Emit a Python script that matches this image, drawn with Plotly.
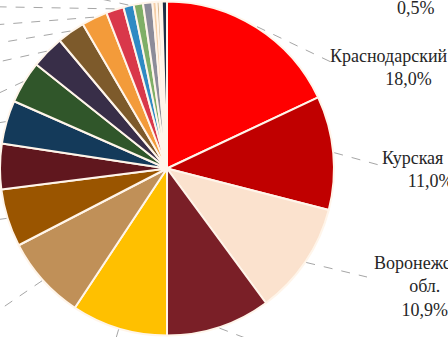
import math
import plotly.graph_objects as go

# ---- data ----
regions = [
    "Краснодарский край", "Курская обл.", "Воронежская обл.", "Липецкая обл.",
    "Тамбовская обл.", "Белгородская обл.", "Орловская обл.", "Пензенская обл.",
    "Республика Татарстан", "Республика Башкортостан", "Ставропольский край",
    "Алтайский край", "Рязанская обл.", "Брянская обл.", "Саратовская обл.",
    "Ульяновская обл.", "Республика Мордовия", "Нижегородская обл.",
    "Омская обл.", "Новосибирская обл.", "Прочие",
]
shares = [18.0, 11.0, 10.9, 10.1, 9.3, 8.1, 5.6, 4.4, 4.2, 4.1, 3.2,
          2.7, 2.5, 1.7, 1.0, 0.9, 0.9, 0.4, 0.3, 0.2, 0.5]

# ---- style ----
colors = ["#FF0000", "#C00000", "#FBE2CE", "#7A1F27", "#FFC000", "#C09058",
          "#9A5500", "#60171E", "#143A5A", "#30562A", "#382E48", "#7D5A2B",
          "#F39B3A", "#D9384A", "#2F8AC4", "#7FAF66", "#8C8C99", "#F5CFA8",
          "#D8B890", "#B8C0C8", "#1F2E45"]

W, H = 448, 337
dom_w = 334  # px width of pie domain
R = min(dom_w, H) / 2
CX, CY = dom_w / 2, H / 2
FONT = dict(family="Liberation Serif", size=18, color="#262626")

def px(x):
    return x / W

def py(y):
    return 1 - y / H

def pct(v):
    return f"{v:.1f}".replace(".", ",") + "%"

fig = go.Figure(go.Pie(
    labels=regions, values=shares, sort=False, direction="clockwise",
    rotation=0, textinfo="none",
    marker=dict(colors=colors, line=dict(color="#FFF5EA", width=2)),
    domain=dict(x=[0, dom_w / W], y=[0, 1]),
    showlegend=False,
))

# label leader-line end points (px), per slice (None = no line)
line_ends = [(331, 62), (379, 165), (367, 277), (282, 352), (112, 352),
             (-20, 323), (-20, 222), None, (-20, 126), (-20, 102), (-20, 66),
             (-20, 46), (-20, 26), (-20, 6.5), (60, -10), None, None, None,
             None, None, None]

total = sum(shares)
cum = 0.0
shapes = []
for v, end in zip(shares, line_ends):
    mid = (cum + v / 2) / total * 2 * math.pi
    cum += v
    if end is None:
        continue
    sx = CX + (R + 1) * math.sin(mid)
    sy = CY - (R + 1) * math.cos(mid)
    shapes.append(dict(type="line", xref="paper", yref="paper",
                       x0=px(sx), y0=py(sy), x1=px(end[0]), y1=py(end[1]),
                       line=dict(color="#A6A6A6", width=1, dash="dash")))

# visible outside labels (centre positions in px)
label_specs = [
    (0, "Краснодарский край", (408, 67)),
    (1, "Курская обл.", (430, 169)),
    (2, "Воронежская<br>обл.", (424, 286)),
]
annotations = []
for i, name, (x, y) in label_specs:
    annotations.append(dict(
        text=f"{name}<br>{pct(shares[i])}", x=px(x), y=py(y),
        xref="paper", yref="paper", xanchor="center", yanchor="middle",
        showarrow=False, align="center", font=FONT))
annotations.append(dict(
    text=pct(shares[-1]), x=px(416), y=py(8), xref="paper", yref="paper",
    xanchor="center", yanchor="middle", showarrow=False, font=FONT))

fig.update_layout(
    width=W, height=H, margin=dict(l=0, r=0, t=0, b=0),
    paper_bgcolor="white", plot_bgcolor="white",
    shapes=shapes, annotations=annotations,
)

fig.write_html(
    "out.html",
    config={"displayModeBar": False},
    post_script="document.body.style.margin='0';document.body.style.overflow='hidden';",
)
